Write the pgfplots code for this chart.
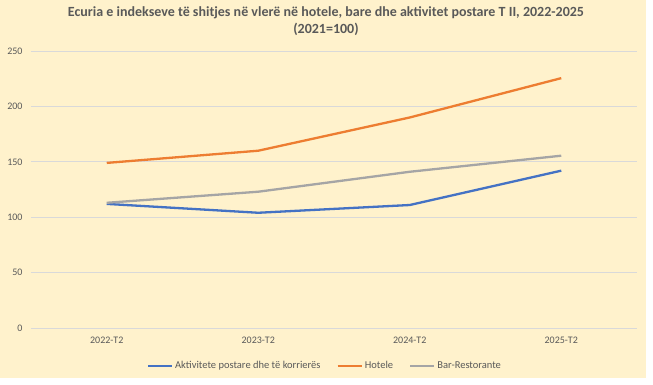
\documentclass[border=0pt]{standalone}
\usepackage{pgfplots}
\pgfplotsset{compat=1.18}
\usepackage{fontspec}
\setmainfont{Carlito}
\definecolor{bgc}{HTML}{FFF2CC}
\definecolor{txt}{HTML}{595959}
\definecolor{gridc}{HTML}{D9D9D9}
\definecolor{cblue}{HTML}{4472C4}
\definecolor{corange}{HTML}{ED7D31}
\definecolor{cgray}{HTML}{A5A5A5}
\begin{document}
\begin{tikzpicture}
\useasboundingbox (0pt,0pt) rectangle (653pt,385pt);
\fill[bgc] (0pt,7pt) rectangle (646pt,385pt);
\node[text=txt,font=\bfseries\fontsize{14}{17}\selectfont,align=center] at (326pt,363.5pt) {Ecuria e indekseve të shitjes në vlerë në hotele, bare dhe aktivitet postare T II, 2022-2025\\(2021=100)};
\begin{axis}[
  at={(31pt,57pt)}, anchor=south west,
  scale only axis, width=606pt, height=277pt,
  xmin=-0.5, xmax=3.5, ymin=0, ymax=250,
  xtick={0,1,2,3},
  xticklabels={2022-T2,2023-T2,2024-T2,2025-T2},
  ytick={0,50,...,250},
  ymajorgrids, grid style={gridc, line width=0.8pt},
  axis line style={draw=none},
  major tick length=0pt,
  tick label style={text=txt, font=\fontsize{10}{12}\selectfont},
  /pgf/number format/assume math mode=true,
  yticklabel style={xshift=-5pt},
  xticklabel style={yshift=-5pt},
  legend columns=3,
  legend style={draw=none, fill=none, at={(0.485,-0.137)}, anchor=center,
    font=\fontsize{10.5}{12}\selectfont, text=txt,
    /tikz/every even column/.append style={column sep=14pt},
    /tikz/every odd column/.append style={inner sep=1pt}},
  legend image code/.code={\draw[#1] (0pt,0pt) -- (24pt,0pt);},
  every axis plot/.append style={line width=2.3pt, line join=round},
]
\addplot[cblue] coordinates {(0,112) (1,104) (2,111) (3,142)};
\addlegendentry{Aktivitete postare dhe të korrierës}
\addplot[corange] coordinates {(0,149) (1,160) (2,190) (3,225.5)};
\addlegendentry{Hotele}
\addplot[cgray] coordinates {(0,113) (1,123) (2,141) (3,155.5)};
\addlegendentry{Bar-Restorante}
\end{axis}
\end{tikzpicture}
\end{document}
